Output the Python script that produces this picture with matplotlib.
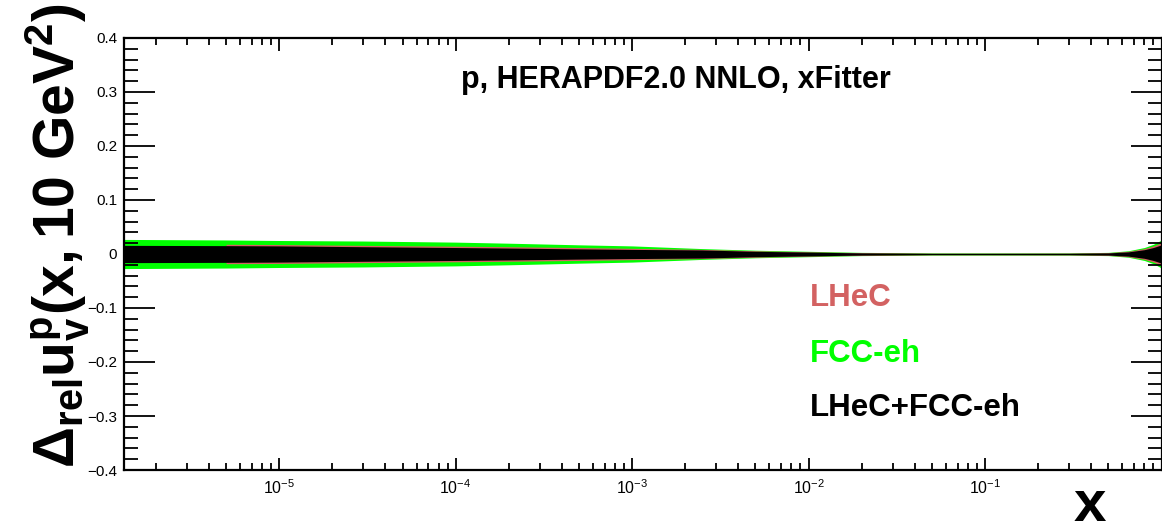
import numpy as np
import matplotlib
matplotlib.use("Agg")
import matplotlib.pyplot as plt
from matplotlib.ticker import LogLocator, MultipleLocator, NullFormatter, FixedLocator

plt.rcParams['font.family'] = ['Liberation Sans', 'DejaVu Sans']
plt.rcParams['mathtext.fontset'] = 'custom'
plt.rcParams['mathtext.rm'] = 'Liberation Sans'
plt.rcParams['mathtext.it'] = 'Liberation Sans:italic'
plt.rcParams['mathtext.bf'] = 'Liberation Sans:bold'

# relative uncertainty bands of u_v at Q2 = 10 GeV2 (half-widths, symmetric around 0)
x_grid = [1.32e-6, 5e-6, 1e-5, 3e-5, 1e-4, 2e-4, 5e-4, 1e-3, 2.5e-3, 5e-3,
          1e-2, 2e-2, 5e-2, 0.1, 0.3, 0.5, 0.65, 0.8, 0.9, 1.0]
fcc_eh = [0.027, 0.026, 0.025, 0.024, 0.022, 0.020, 0.017, 0.015, 0.010, 0.007,
          0.005, 0.003, 0.002, 0.002, 0.002, 0.003, 0.006, 0.012, 0.018, 0.026]
lhec = [np.nan, 0.018, 0.0175, 0.016, 0.0145, 0.0135, 0.012, 0.0105, 0.0085, 0.006,
        0.004, 0.0025, 0.0015, 0.0015, 0.0016, 0.0025, 0.005, 0.010, 0.015, 0.021]
lhec_fcc = [0.016, 0.0155, 0.015, 0.0135, 0.012, 0.011, 0.0095, 0.0085, 0.0075, 0.005,
            0.0035, 0.002, 0.0012, 0.0012, 0.0013, 0.002, 0.004, 0.008, 0.012, 0.017]

labels = ['LHeC', 'FCC-eh', 'LHeC+FCC-eh']
colors = ['#d36262', '#00ff00', '#000000']
decades = [1e-5, 1e-4, 1e-3, 1e-2, 1e-1]

x = np.array(x_grid)
fig = plt.figure(figsize=(11.62, 5.28), dpi=100)
ax = fig.add_axes([124/1162, 1-470/528, (1161.5-124)/1162, (470-38)/528])

for hw, c in [(fcc_eh, colors[1]), (lhec, colors[0]), (lhec_fcc, colors[2])]:
    hw = np.array(hw)
    ax.fill_between(x, -hw, hw, color=c, lw=0)

ax.set_xscale('log')
ax.set_xlim(1.32e-6, 1.0)
ax.set_ylim(-0.4, 0.4)

ax.yaxis.set_major_locator(MultipleLocator(0.1))
ax.yaxis.set_minor_locator(MultipleLocator(0.02))
ax.yaxis.set_major_formatter(plt.FuncFormatter(lambda v, p: '0' if abs(v) < 1e-9 else ('%.1f' % v).replace('-', '\u2212')))
ax.xaxis.set_major_locator(FixedLocator(decades))
ax.xaxis.set_minor_locator(LogLocator(base=10, subs=np.arange(2, 10), numticks=20))
ax.xaxis.set_minor_formatter(NullFormatter())

ax.tick_params(axis='y', which='major', direction='in', length=22, width=1.3,
               left=True, right=True, labelsize=11, pad=5)
ax.tick_params(axis='y', which='minor', direction='in', length=10, width=1.3,
               left=True, right=True)
ax.tick_params(axis='x', which='major', direction='in', length=9, width=1.3,
               bottom=True, top=True, labelsize=11.5, pad=6)
ax.tick_params(axis='x', which='minor', direction='in', length=5, width=1.3,
               bottom=True, top=True)
for s in ax.spines.values():
    s.set_linewidth(1.6)

fig.text(676/1162, 1-80/528, 'p, HERAPDF2.0 NNLO, xFitter',
         ha='center', va='center', fontsize=22, fontweight='bold')

legend_y = [298, 354, 408]
for lab, c, ypix in zip(labels, colors, legend_y):
    fig.text(810/1162, 1-ypix/528, lab, color=c, fontsize=22.5, fontweight='bold',
             ha='left', va='center')

fig.text(58/1162, 1-236/528, r'$\mathbf{\Delta_{rel}u_{v}^{p}(x,10\ GeV^{2})}$',
         rotation=90, ha='center', va='center', fontsize=41)
fig.text(1090/1162, 1-506/528, 'x', fontsize=42, fontweight='bold',
         ha='center', va='center')

fig.savefig('out.png', dpi=100)
